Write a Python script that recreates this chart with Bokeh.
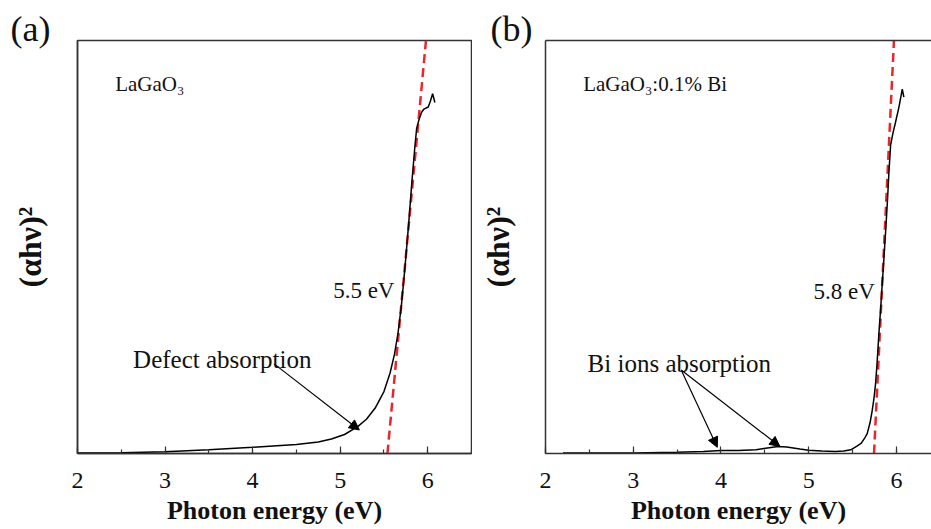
from bokeh.plotting import figure
from bokeh.models import (Label, Arrow, NormalHead, SingleIntervalTicker, FixedTicker,
                          LinearAxis, Range1d)
from bokeh.layouts import row
from bokeh.embed import file_html
from bokeh.resources import INLINE

# ---------------- data ----------------
energy_a = [2.0, 2.5, 3.0, 3.5, 4.0, 4.5, 4.75, 4.9, 5.05, 5.2, 5.3, 5.4, 5.5, 5.57,
            5.62, 5.66, 5.70, 5.74, 5.78, 5.82, 5.85, 5.873, 5.90, 5.93, 5.957, 6.006,
            6.03, 6.056, 6.082]
absorb_a = [0.1, 0.2, 0.4, 0.9, 1.5, 2.2, 2.8, 3.5, 4.6, 6.5, 8.3, 11.0, 15.0, 19.5,
            24.0, 29.0, 36.0, 45.0, 55.0, 66.0, 73.5, 78.6, 80.8, 82.6, 83.4, 83.9,
            85.3, 87.1, 85.0]

energy_b = [2.2, 2.5, 3.0, 3.5, 3.8, 4.0, 4.2, 4.4, 4.55, 4.65, 4.75, 4.9, 5.0, 5.15,
            5.3, 5.4, 5.48, 5.55, 5.6, 5.64, 5.667, 5.70, 5.724, 5.745, 5.762, 5.78,
            5.80, 5.82, 5.839, 5.86, 5.877, 5.90, 5.915, 5.934, 5.96, 5.99, 6.03,
            6.067, 6.085]
absorb_b = [0.1, 0.1, 0.15, 0.3, 0.5, 0.7, 0.7, 0.9, 1.4, 1.7, 1.6, 1.1, 0.8, 0.6,
            0.5, 0.6, 0.9, 1.8, 2.5, 3.8, 4.8, 7.5, 10.4, 13.5, 16.8, 22.0,
            28.9, 35.0, 41.3, 48.0, 53.7, 62.0, 68.2, 74.7, 77.5, 80.2, 84.0,
            88.2, 86.3]

fit_a_x = [5.54, 5.98]
fit_a_y = [0, 100]
fit_b_x = [5.745, 5.972]
fit_b_y = [0, 100]

gap_a_text = "5.5 eV"
gap_b_text = "5.8 eV"
sample_a = "LaGaO\u2083"
sample_b = "LaGaO\u2083:0.1% Bi"
x_label = "Photon energy (eV)"
y_label = "(\u03b1h\u03bd)\u00b2"
panel_letters = ["(a)", "(b)"]

FONT = "Liberation Serif"
RED = "#e8262c"
FRAME = "#333333"


def make_panel(energy, absorb, fit_x, fit_y, x_end, width, border_left, border_right,
               outline, letter, letter_dx):
    p = figure(width=width, height=529, title_location=None,
               x_range=Range1d(2, x_end), y_range=Range1d(0, 100),
               min_border_left=border_left, min_border_right=border_right,
               min_border_top=38, min_border_bottom=76,
               toolbar_location=None, output_backend="svg")
    p.grid.visible = False
    p.background_fill_color = "white"
    p.border_fill_color = "white"

    xa = p.below[0]
    xa.ticker = SingleIntervalTicker(interval=1, num_minor_ticks=2)
    xa.axis_line_color = FRAME
    xa.axis_line_width = 1.5
    xa.major_tick_in = 7
    xa.major_tick_out = 0
    xa.minor_tick_in = 4
    xa.minor_tick_out = 0
    xa.major_tick_line_color = FRAME
    xa.minor_tick_line_color = FRAME
    xa.major_tick_line_width = 1.2
    xa.minor_tick_line_width = 1.2
    xa.major_label_text_font = FONT
    xa.major_label_text_font_size = "24px"
    xa.major_label_text_color = "#111111"
    xa.major_label_standoff = 19
    xa.axis_label = x_label
    xa.axis_label_text_font = FONT
    xa.axis_label_text_font_style = "bold"
    xa.axis_label_text_font_size = "26px"
    xa.axis_label_text_color = "#111111"
    xa.axis_label_standoff = 5

    ya = p.left[0]
    ya.ticker = FixedTicker(ticks=[])
    ya.axis_line_color = FRAME
    ya.axis_line_width = 1.5
    ya.major_tick_line_color = None
    ya.minor_tick_line_color = None
    ya.major_label_text_font_size = "0px"
    ya.axis_label = y_label
    ya.axis_label_text_font = FONT
    ya.axis_label_text_font_style = "bold"
    ya.axis_label_text_font_size = "32px"
    ya.axis_label_text_color = "#111111"
    ya.axis_label_standoff = 30

    if outline:
        p.outline_line_color = FRAME
        p.outline_line_width = 1.5
    else:
        p.outline_line_color = None
        top = LinearAxis(ticker=FixedTicker(ticks=[]), axis_line_color=FRAME,
                         axis_line_width=1.5, major_label_text_font_size="0px",
                         major_tick_line_color=None, minor_tick_line_color=None)
        p.add_layout(top, "above")

    # panel letter placed in the top margin panel (not clipped by the frame)
    p.add_layout(Label(x=letter_dx, y=12, x_units="screen", y_units="screen",
                       text=letter, text_font=FONT, text_font_size="36px",
                       text_color="#111111", text_baseline="alphabetic"), "above")

    p.line(fit_x, fit_y, line_color=RED, line_width=2.5, line_dash="9 5")
    p.line(energy, absorb, line_color="black", line_width=1.5)
    return p


pa = make_panel(energy_a, absorb_a, fit_a_x, fit_a_y, 6.5, 472, 77, 1, True,
                panel_letters[0], -67)
pb = make_panel(energy_b, absorb_b, fit_b_x, fit_b_y, 6.4, 459, 73, 0, False,
                panel_letters[1], -55)


def txt(p, x, y, s, size, **kw):
    p.add_layout(Label(x=x, y=y, text=s, text_font=FONT, text_font_size=size,
                       text_color="#111111", text_baseline="alphabetic", **kw))


# panel (a) texts
txt(pa, 2.43, 89.4, sample_a, "21px")
txt(pa, 4.92, 39.5, gap_a_text, "23px")
txt(pa, 2.635, 22.7, "Defect absorption", "25px")
pa.add_layout(Arrow(x_start=4.246, y_start=21.7, x_end=5.219, y_end=5.7,
                    line_color="black", line_width=1.2,
                    end=NormalHead(size=10, fill_color="black", line_color="black")))

# panel (b) texts
txt(pb, 2.43, 89.4, sample_b, "21px")
txt(pb, 5.056, 39.3, gap_b_text, "23px")
txt(pb, 2.48, 21.7, "Bi ions absorption", "25px")
for xe, ye in [(3.958, 1.5), (4.672, 1.7)]:
    pb.add_layout(Arrow(x_start=3.547, y_start=20.2, x_end=xe, y_end=ye,
                        line_color="black", line_width=1.2,
                        end=NormalHead(size=10, fill_color="black", line_color="black")))

layout = row(pa, pb)
open("out.html", "w").write(file_html(layout, INLINE))
